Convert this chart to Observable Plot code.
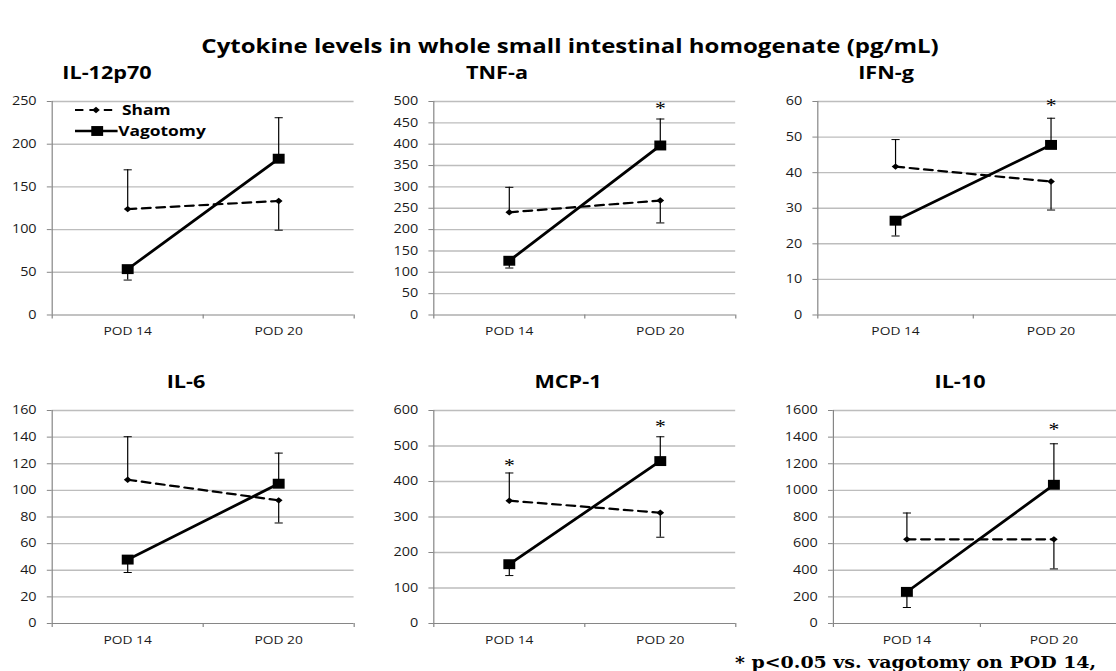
<!DOCTYPE html>
<html><head><meta charset="utf-8">
<script src="https://cdn.jsdelivr.net/npm/d3@7"></script>
<script src="https://cdn.jsdelivr.net/npm/@observablehq/plot@0.6"></script>
<style>
html,body{margin:0;padding:0;background:#fff;overflow:hidden;}
#page{position:relative;width:1116px;height:671px;overflow:hidden;background:#fff;}
#stage{position:absolute;left:0;top:0;width:930px;height:671px;transform:scaleX(1.2);transform-origin:0 0;font-family:"Open Sans",sans-serif;}
#stage svg{position:absolute;}
</style></head><body>
<div id="page"><div id="stage"></div></div>
<script>
// ---------- data ----------
const mainTitle = "Cytokine levels in whole small intestinal homogenate (pg/mL)";
const footnote = "* p<0.05 vs. vagotomy on POD 14,";
const categories = ["POD 14", "POD 20"];
const seriesNames = ["Sham", "Vagotomy"];
const panelNames = ["IL-12p70", "TNF-a", "IFN-g", "IL-6", "MCP-1", "IL-10"];
const yMax  = [250, 500, 60, 160, 600, 1600];
const yStep = [50, 50, 10, 20, 100, 200];
const shamMean = [[124, 133.5], [240.5, 268], [41.7, 37.5], [108, 92.5], [346, 312], [632, 632]];
const shamErr  = [[170, 99.3], [299, 215.6], [49.3, 29.5], [140.3, 75.5], [424, 243], [830, 410]];
const vagMean  = [[53.7, 183], [127, 397], [26.5, 47.8], [48, 105], [167, 457.5], [237.5, 1042]];
const vagErr   = [[40.9, 231], [110, 459], [22.2, 55.3], [38.3, 128], [135, 526], [120, 1350]];
// significance asterisks: panel index, category, value (position of the mark)
const starPanel = [1, 2, 4, 4, 5];
const starCat   = ["POD 20", "POD 20", "POD 14", "POD 20", "POD 20"];
const starValue = [494, 60, 457, 567, 1487];

// ---------- layout (reference pixels) ----------
const SX = 1.2; // horizontal stretch of the reference picture
const frameL = [51, 433, 817, 51, 433, 833];
const frameW = [302, 302, 311, 302, 302, 294];
const frameT = [101, 101, 101, 410, 410, 410];
const frameH = [213.5, 213.5, 213.5, 213, 213, 213];
const titleX = [107, 497, 886, 186, 568, 960];
const titleY = [73, 73, 73, 381.5, 381.5, 381.5];

const stage = document.getElementById("stage");
const capSymbol = {draw(ctx, size) { const w = Math.sqrt(size / Math.PI); ctx.moveTo(-w, 0); ctx.lineTo(w, 0); }};

function panel(i) {
  const mL = 40, mR = 4, mT = 14, mB = 36;
  const fw = frameW[i] / SX;
  const width = mL + fw + mR;
  const height = mT + frameH[i] + mB;
  const ticks = d3.range(0, yMax[i] + yStep[i] / 2, yStep[i]);
  const rows = [];
  categories.forEach((c, j) => {
    rows.push({series: seriesNames[0], pod: c, x: j + 0.5, mean: shamMean[i][j], err: shamErr[i][j]});
    rows.push({series: seriesNames[1], pod: c, x: j + 0.5, mean: vagMean[i][j], err: vagErr[i][j]});
  });
  const sham = rows.filter(d => d.series === seriesNames[0]);
  const vag = rows.filter(d => d.series === seriesNames[1]);
  const stars = starPanel.map((p, k) => ({p, x: categories.indexOf(starCat[k]) + 0.5, y: starValue[k]})).filter(d => d.p === i);
  const svg = Plot.plot({
    width, height, marginLeft: mL, marginRight: mR, marginTop: mT, marginBottom: mB,
    x: {domain: [0, 2], axis: null},
    y: {domain: [0, yMax[i]], axis: null},
    style: {fontFamily: "Open Sans", background: "transparent", overflow: "visible"},
    marks: [
      Plot.gridY(ticks.filter(t => t > 0), {stroke: "#bdbdbd", strokeOpacity: 1, strokeWidth: 1.4}),
      Plot.ruleY([0], {stroke: "#868686"}),
      Plot.ruleX([0], {stroke: "#868686"}),
      Plot.axisY({ticks, label: null, tickSize: 4, tickPadding: 9, stroke: "#868686", fill: "#1a1a1a", fontSize: 12, tickFormat: d3.format("d")}),
      Plot.axisX({ticks: [0, 1, 2], label: null, tickSize: 4, stroke: "#868686", fill: "none"}),
      Plot.axisX({ticks: [0.5, 1.5], label: null, tickSize: 0, tickPadding: 12, fill: "#1a1a1a", fontSize: 11.5, tickFormat: v => categories[Math.floor(v)]}),
      Plot.ruleX(rows, {x: "x", y1: "mean", y2: "err", stroke: "#000", strokeWidth: 1}),
      Plot.dot(rows, {x: "x", y: "err", symbol: capSymbol, r: 3.4, stroke: "#000", strokeWidth: 1, fill: "none"}),
      Plot.line(sham, {x: "x", y: "mean", stroke: "#000", strokeWidth: 2.2, strokeDasharray: "7,5"}),
      Plot.line(vag, {x: "x", y: "mean", stroke: "#000", strokeWidth: 2.6}),
      Plot.dot(sham, {x: "x", y: "mean", symbol: "diamond2", r: 2.9, fill: "#000", stroke: "none"}),
      Plot.dot(vag, {x: "x", y: "mean", symbol: "square", r: 5.6, fill: "#000", stroke: "none"}),
      Plot.text(stars, {x: "x", y: "y", text: () => "*", fontSize: 18, fontFamily: "Liberation Serif", fill: "#000", dy: 5})
    ]
  });
  svg.style.left = (frameL[i] / SX - mL) + "px";
  svg.style.top = (frameT[i] - mT) + "px";
  stage.appendChild(svg);
}
panelNames.forEach((_, i) => panel(i));

// ---------- titles, legend, footnote ----------
const ov = d3.select(stage).append("svg").attr("width", 930).attr("height", 671).style("left", "0px").style("top", "0px").style("overflow", "hidden");
ov.append("text").attr("x", 570 / SX).attr("y", 46).attr("dy", "0.36em").attr("text-anchor", "middle")
  .attr("font-family", "Open Sans").attr("font-weight", 700).attr("font-size", 20).text(mainTitle);
ov.selectAll("text.pt").data(panelNames).join("text").attr("class", "pt")
  .attr("x", (d, i) => titleX[i] / SX).attr("y", (d, i) => titleY[i]).attr("dy", "0.36em").attr("text-anchor", "middle")
  .attr("font-family", "Open Sans").attr("font-weight", 700).attr("font-size", 18).text(d => d);

// legend
const lg = ov.append("g");
const legY = [110, 131];
lg.append("line").attr("x1", 62.5).attr("x2", 98).attr("y1", legY[0]).attr("y2", legY[0]).attr("stroke", "#000").attr("stroke-width", 2.2).attr("stroke-dasharray", "7,5");
lg.append("path").attr("d", d3.symbol(d3.symbolDiamond2, 26)()).attr("transform", `translate(80,${legY[0]})`).attr("fill", "#000");
lg.append("line").attr("x1", 62.5).attr("x2", 98).attr("y1", legY[1]).attr("y2", legY[1]).attr("stroke", "#000").attr("stroke-width", 2.6);
lg.append("path").attr("d", d3.symbol(d3.symbolSquare, 98)()).attr("transform", `translate(81,${legY[1]})`).attr("fill", "#000");
lg.selectAll("text").data(seriesNames).join("text")
  .attr("x", (d, i) => i === 0 ? 101.7 : 98.5).attr("y", (d, i) => legY[i]).attr("dy", "0.36em")
  .attr("font-family", "Open Sans").attr("font-weight", 700).attr("font-size", 14.5).text(d => d);

// footnote
ov.append("text").attr("x", 735 / SX).attr("y", 668).attr("font-family", "DejaVu Serif").attr("font-weight", 700)
  .attr("font-size", 15.8).text(footnote);
</script>
</body></html>
